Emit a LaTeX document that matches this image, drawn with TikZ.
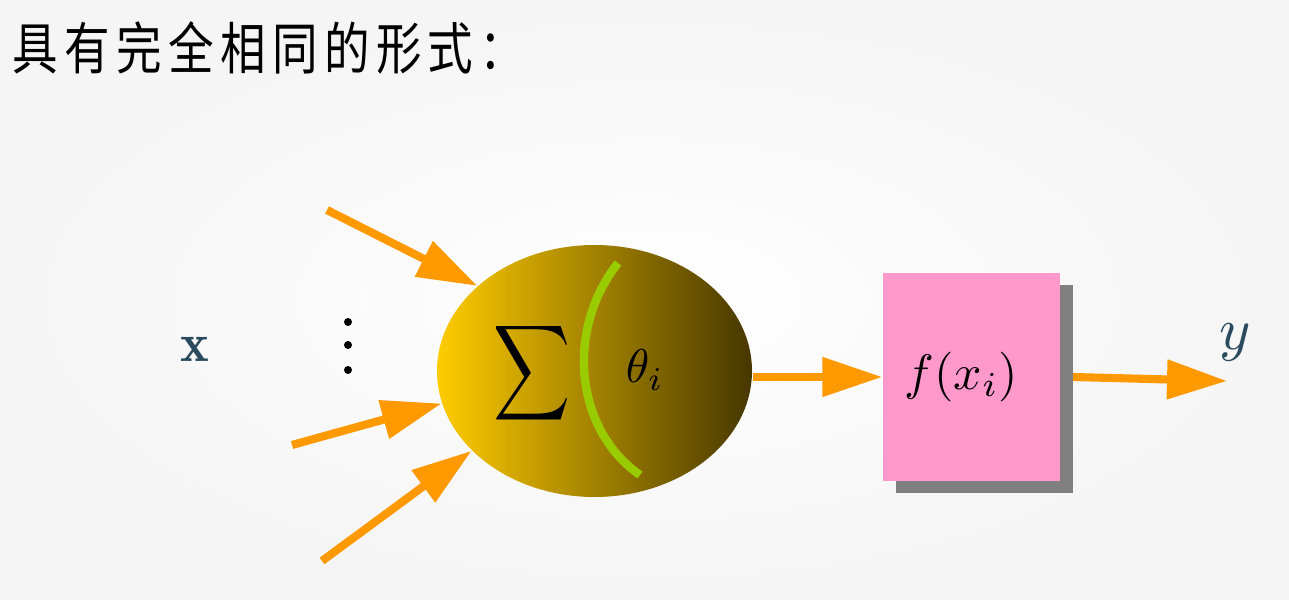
\documentclass[tikz,border=0pt]{standalone}
\usepackage{graphicx}
\usepackage{fontspec}
\newfontfamily\cjk[LetterSpace=14]{Noto Sans CJK SC}
\usetikzlibrary{arrows.meta,shapes.geometric,shadows,positioning}

\definecolor{arroworange}{HTML}{FF9900}
\definecolor{boxpink}{HTML}{FF99CC}
\definecolor{arcgreen}{HTML}{99CC00}
\definecolor{labelblue}{RGB}{42,74,94}
\definecolor{sumleft}{HTML}{FFCC00}
\definecolor{summid}{HTML}{B89300}
\definecolor{sumright}{HTML}{463700}

\begin{document}
\begin{tikzpicture}[
    flow/.style={arroworange, line width=2.3pt,
        -{Triangle[length=6mm,width=3.8mm]}},
    mathlabel/.style={inner sep=0pt, scale=1.35}
]

%% Pozadie
\shade[inner color=white, outer color=black!4] (0,0) rectangle (12.89,6);
\useasboundingbox (0,0) rectangle (12.89,6);

%% Nadpis
\node[anchor=west, inner sep=0pt, xscale=0.81, text=black,
    font=\cjk\fontsize{16}{18}\selectfont] (title) at (0.12,5.52)
    {具有完全相同的形式：};

%% Vstup x a bodky
\node[inner sep=0pt, text=labelblue, scale=1.55]
    (xin) at (1.95,2.51) {$\mathbf{x}$};
\foreach \yy in {2.78,2.55,2.30}
    \fill (3.48,\yy) circle (0.04);

%% Neurón
\node[ellipse, minimum width=3.15cm, minimum height=2.52cm, inner sep=0pt,
    left color=sumleft, middle color=summid, right color=sumright]
    (neuron) at (5.945,2.29) {};
\node[inner sep=0pt, xscale=1.52, yscale=1.9]
    (sigma) at (5.32,2.27) {$\displaystyle\sum$};
\draw[arcgreen, line width=2.4pt]
    (6.18,3.37) .. controls (5.65,2.70) and (5.75,1.70) .. (6.40,1.25);
\node[mathlabel] (theta) at (6.45,2.30) {$\theta_i$};

%% Vstupné šípky
\coordinate (in1) at (3.27,3.90);
\coordinate (in2) at (2.92,1.55);
\coordinate (in3) at (3.22,0.39);
\foreach \src/\ang in {in1/144, in2/192, in3/213}
    \draw[flow] (\src) -- (neuron.\ang);

%% Blok f
\coordinate (yout) at (12.27,2.19);
\draw[flow] (10.73,2.23) -- (yout);
\node[fill=boxpink, minimum width=1.77cm, minimum height=2.08cm,
    inner sep=0pt,
    drop shadow={shadow xshift=1.3mm, shadow yshift=-1.2mm,
        fill=black!50, opacity=1}]
    (fbox) at (9.715,2.23) {};
\node[mathlabel, scale=1.05] (flabel) at ([xshift=-1mm]fbox.center) {$f(x_i)$};
\draw[flow] (neuron.east |- fbox.west) -- (fbox.west);

%% Výstup
\node[inner sep=0pt, text=labelblue, scale=1.7]
    (yl) at (12.35,2.58) {$y$};

\end{tikzpicture}
\end{document}
